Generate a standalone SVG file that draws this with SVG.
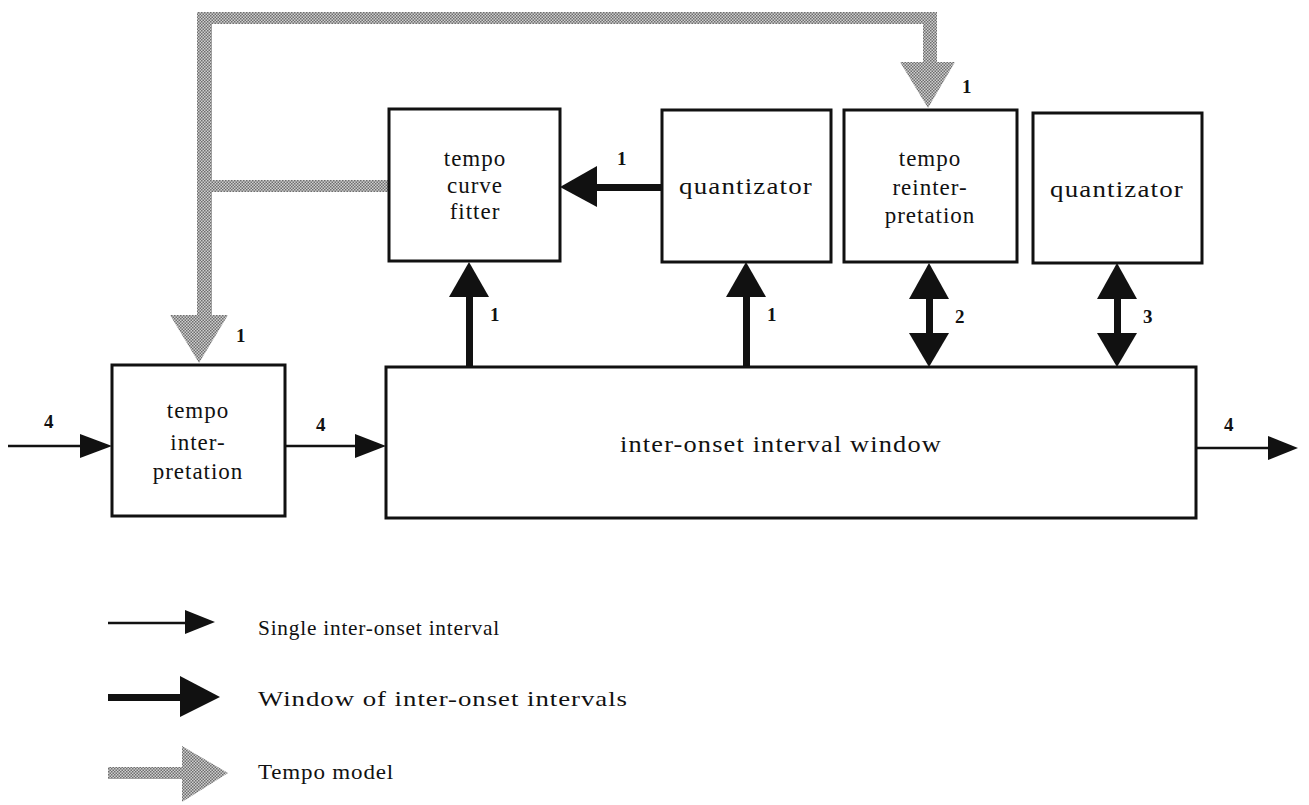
<svg xmlns="http://www.w3.org/2000/svg" width="1309" height="805" viewBox="0 0 1309 805">
<style>
.box{fill:none;stroke:#111;stroke-width:3}
.t{font-family:"Liberation Serif",serif;font-size:23px;letter-spacing:1px;fill:#111;text-anchor:middle}
.n{font-family:"Liberation Serif",serif;font-size:19px;font-weight:bold;fill:#111}
.lg{font-family:"Liberation Serif",serif;font-size:22px;letter-spacing:0.8px;fill:#111}
.thin{stroke:#111;stroke-width:2.5;fill:none}
.blk{fill:#111}
.gray{fill:url(#dots)}
</style>
<defs>
<pattern id="dots" width="3" height="3" patternUnits="userSpaceOnUse">
<rect width="3" height="3" fill="#cfcfcf"/>
<rect x="0" y="0" width="1.5" height="1.5" fill="#6e6e6e"/>
<rect x="1.5" y="1.5" width="1.5" height="1.5" fill="#6e6e6e"/>
</pattern>
</defs>
<rect width="1309" height="805" fill="#fff"/>

<g id="connectors">
<rect class="gray" x="197" y="12" width="740" height="12"/>
<rect class="gray" x="197" y="12" width="15" height="304"/>
<polygon class="gray" points="170,315 228,315 199,363"/>
<rect class="gray" x="212" y="180" width="177" height="12"/>
<rect class="gray" x="923" y="12" width="14" height="51"/>
<polygon class="gray" points="900,62 955,62 928,108"/>
<text class="n" x="962" y="93">1</text>
<text class="n" x="236" y="342">1</text>

<line class="thin" x1="8" y1="446" x2="82" y2="446"/>
<polygon class="blk" points="80,434 112,446 80,458"/>
<text class="n" x="44" y="428">4</text>
<line class="thin" x1="285" y1="446" x2="357" y2="446"/>
<polygon class="blk" points="355,434 386,446 355,458"/>
<text class="n" x="316" y="431">4</text>
<line class="thin" x1="1196" y1="448" x2="1270" y2="448"/>
<polygon class="blk" points="1268,436 1298,448 1268,460"/>
<text class="n" x="1224" y="431">4</text>

<rect class="blk" x="596" y="184" width="66" height="7"/>
<polygon class="blk" points="597,166 560,187 597,207"/>
<text class="n" x="617" y="165">1</text>

<rect class="blk" x="466" y="296" width="7" height="71"/>
<polygon class="blk" points="449,297 469,262 489,297"/>
<text class="n" x="490" y="321">1</text>

<rect class="blk" x="743" y="296" width="7" height="71"/>
<polygon class="blk" points="726,297 746,262 766,297"/>
<text class="n" x="767" y="321">1</text>

<rect class="blk" x="926" y="298" width="7" height="38"/>
<polygon class="blk" points="909,299 929,263 949,299"/>
<polygon class="blk" points="909,333 929,367 949,333"/>
<text class="n" x="955" y="323">2</text>

<rect class="blk" x="1114" y="298" width="7" height="38"/>
<polygon class="blk" points="1097,299 1117,263 1137,299"/>
<polygon class="blk" points="1097,333 1117,367 1137,333"/>
<text class="n" x="1143" y="323">3</text>
</g>

<g id="n-curve-fitter">
<rect class="box" x="389" y="109" width="171" height="152"/>
<text class="t" x="475" y="166">tempo</text>
<text class="t" x="475" y="193">curve</text>
<text class="t" x="475" y="219">fitter</text>
</g>
<g id="n-quantizator1">
<rect class="box" x="662" y="110" width="169" height="152"/>
<text class="t" x="746" y="194" textLength="134" lengthAdjust="spacingAndGlyphs">quantizator</text>
</g>
<g id="n-reinterpretation">
<rect class="box" x="844" y="110" width="173" height="152"/>
<text class="t" x="930" y="166">tempo</text>
<text class="t" x="930" y="195">reinter-</text>
<text class="t" x="930" y="223">pretation</text>
</g>
<g id="n-quantizator2">
<rect class="box" x="1033" y="113" width="169" height="150"/>
<text class="t" x="1117" y="197" textLength="134" lengthAdjust="spacingAndGlyphs">quantizator</text>
</g>
<g id="n-interpretation">
<rect class="box" x="112" y="365" width="173" height="151"/>
<text class="t" x="198" y="418">tempo</text>
<text class="t" x="198" y="450">inter-</text>
<text class="t" x="198" y="479">pretation</text>
</g>
<g id="n-window">
<rect class="box" x="386" y="367" width="810" height="151"/>
<text class="t" x="781" y="452" textLength="322" lengthAdjust="spacingAndGlyphs">inter-onset interval window</text>
</g>

<g id="legend">
<line class="thin" x1="108" y1="623" x2="188" y2="623"/>
<polygon class="blk" points="185,610 215,622 185,634"/>
<text class="lg" x="258" y="635" textLength="242" lengthAdjust="spacingAndGlyphs">Single inter-onset interval</text>
<rect class="blk" x="108" y="694" width="74" height="7"/>
<polygon class="blk" points="180,676 220,697 180,717"/>
<text class="lg" x="258" y="706" textLength="370" lengthAdjust="spacingAndGlyphs">Window of inter-onset intervals</text>
<rect class="gray" x="108" y="767" width="76" height="12"/>
<polygon class="gray" points="182,746 182,802 228,773"/>
<text class="lg" x="258" y="779" textLength="136" lengthAdjust="spacingAndGlyphs">Tempo model</text>
</g>
</svg>
